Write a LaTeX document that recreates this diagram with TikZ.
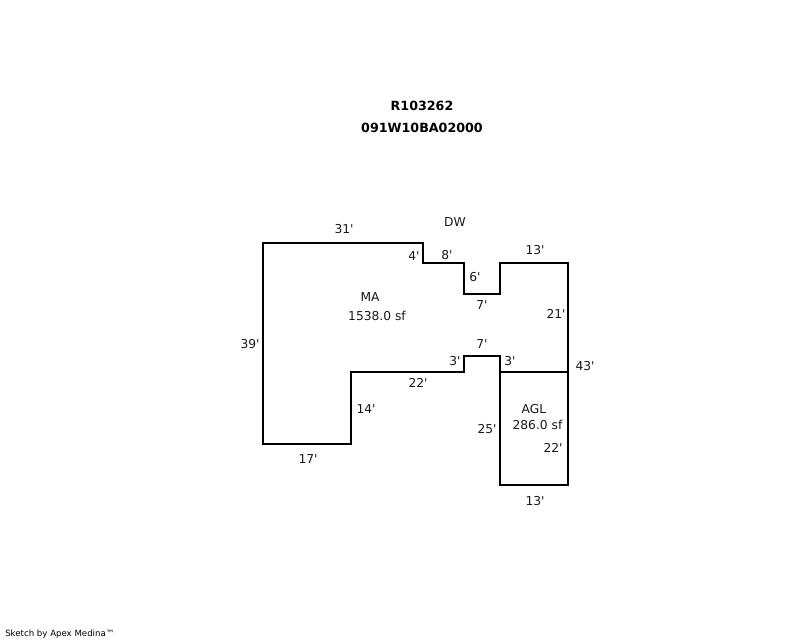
\documentclass[tikz,border=0pt]{standalone}
\usepackage{fontspec}
\newfontfamily\planfont{DejaVu Sans}
\tikzset{
  wall/.style={draw=black,line width=1.65pt,line join=miter,line cap=rect},
  lab/.style={inner sep=0pt,font=\planfont\fontsize{9.2}{11}\selectfont,text=black!90},
  head/.style={inner sep=0pt,font=\planfont\fontsize{9.5}{11}\selectfont\bfseries},
  foot/.style={inner sep=0pt,font=\planfont\fontsize{6.45}{8}\selectfont}
}
\begin{document}
\begin{tikzpicture}[x=0.75pt,y=-0.75pt]
\useasboundingbox[fill=white] (0,0) rectangle (800,640);
\draw[wall] (263,243) -- (423,243) -- (423,263) -- (464,263) -- (464,294) -- (500,294) -- (500,263) -- (568,263) -- (568,485) -- (500,485) -- (500,356) -- (464,356) -- (464,372) -- (351,372) -- (351,444) -- (263,444) -- cycle;
\draw[wall] (500,372) -- (568,372);
\begin{scope}[yshift=-0.6pt]
\node[head] (t1) at (422,105) {R103262};
\node[head] (t2) at (422,127) {091W10BA02000};
\node[lab] (dw) at (455,221.5) {DW};
\node[lab] (a) at (344,228.5) {31'};
\node[lab] (b) at (414,255.5) {4'};
\node[lab] (c) at (447,254.5) {8'};
\node[lab] (d) at (535,249.5) {13'};
\node[lab] (e) at (475,276.5) {6'};
\node[lab] (f) at (482,304) {7'};
\node[lab] (g) at (556,313) {21'};
\node[lab] (h) at (370,296.5) {MA};
\node[lab] (i) at (377,315) {1538.0 sf};
\node[lab] (j) at (250,343) {39'};
\node[lab] (k) at (482,343) {7'};
\node[lab] (l) at (455,360) {3'};
\node[lab] (m) at (510,360) {3'};
\node[lab] (n) at (585,365) {43'};
\node[lab] (o) at (418,382) {22'};
\node[lab] (p) at (366,408.5) {14'};
\node[lab] (q) at (534,408.5) {AGL};
\node[lab] (r) at (537.5,424) {286.0 sf};
\node[lab] (s) at (487,428.5) {25'};
\node[lab] (u) at (553,447) {22'};
\node[lab] (v) at (308,458.5) {17'};
\node[lab] (w) at (535,500.5) {13'};
\node[foot,anchor=west] (x) at (5,633) {Sketch by Apex Medina™};
\end{scope}
\end{tikzpicture}
\end{document}
